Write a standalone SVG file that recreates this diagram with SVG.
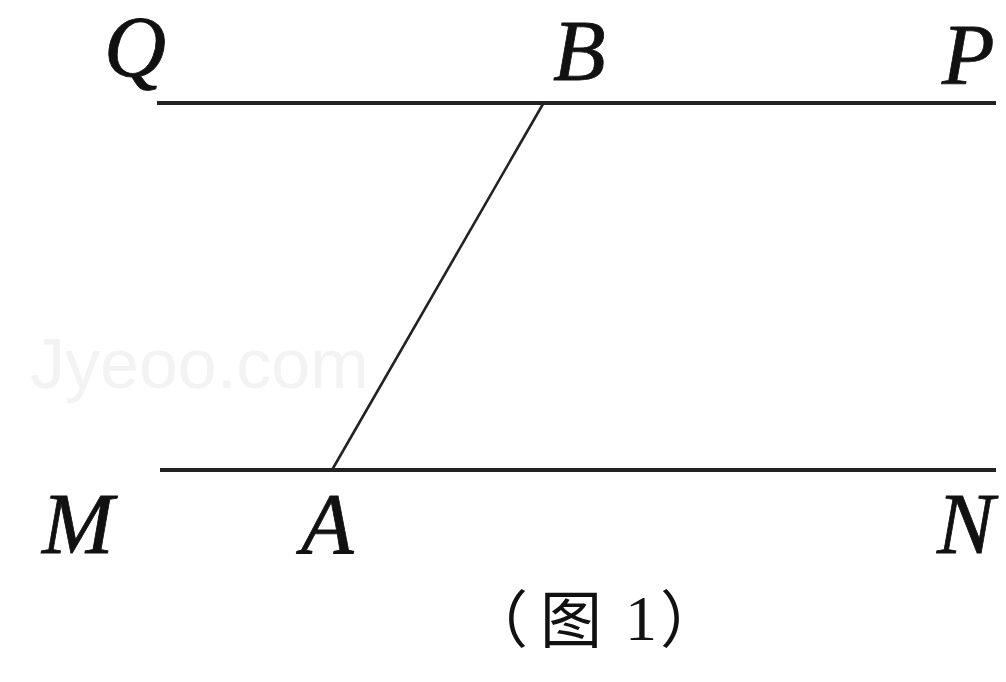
<svg xmlns="http://www.w3.org/2000/svg" width="1006" height="682" viewBox="0 0 1006 682">
<style>
.lbl{font-family:"Liberation Serif","Times New Roman",serif;font-style:italic;font-size:86px;fill:#111;stroke:#111;stroke-width:0.8}
.ln{stroke:#222;fill:none;stroke-linecap:butt}
.cap{font-family:"Noto Sans CJK SC",sans-serif;font-size:62px;fill:#111}
.num{font-family:"Liberation Serif","Times New Roman",serif;font-size:64px;fill:#111}
.wm{font-family:"Liberation Sans",Arial,sans-serif;font-size:70px;fill:#f3f3f3}
</style>
<rect width="1006" height="682" fill="#fff"/>
<text class="wm" x="30" y="388">Jyeoo.com</text>
<g id="connectors">
<line class="ln" x1="157" y1="103" x2="996" y2="103" stroke-width="4"/>
<line class="ln" x1="160" y1="470" x2="996" y2="470" stroke-width="4"/>
<line class="ln" x1="543" y1="104" x2="332" y2="470" stroke-width="2.6"/>
</g>
<g id="Q"><text class="lbl" x="104" y="76">Q</text></g>
<g id="B"><text class="lbl" x="553" y="80">B</text></g>
<g id="P"><text class="lbl" x="942" y="84">P</text></g>
<g id="M"><text class="lbl" x="42" y="553">M</text></g>
<g id="A"><text class="lbl" x="301" y="553">A</text></g>
<g id="N"><text class="lbl" x="937" y="553">N</text></g>
<g id="caption"><text class="cap" y="643"><tspan x="466">（</tspan><tspan x="540">图</tspan><tspan class="num" x="625" y="640">1</tspan><tspan x="660" y="643">）</tspan></text></g>
</svg>
